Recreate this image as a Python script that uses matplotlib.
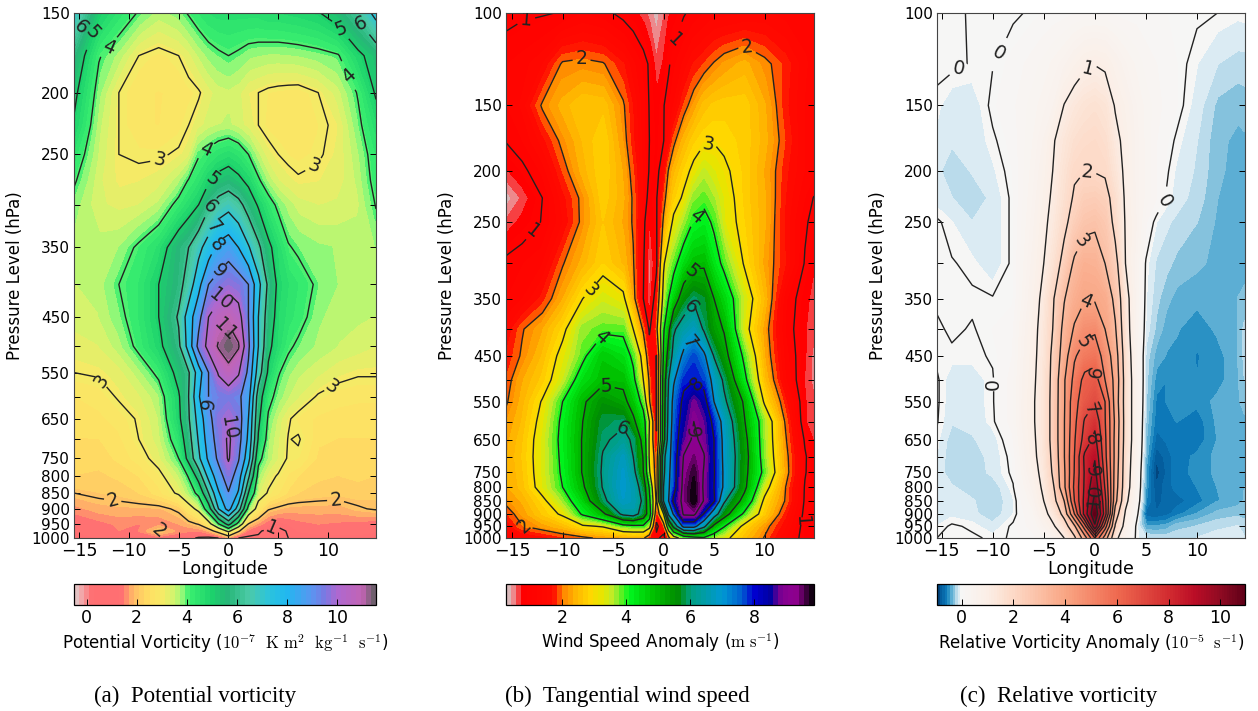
import matplotlib
matplotlib.use("Agg")
import matplotlib.pyplot as plt
from matplotlib.colors import LinearSegmentedColormap
import numpy as np

plt.rcParams['font.family'] = ['DejaVu Sans']
plt.rcParams['mathtext.fontset'] = 'cm'

# ---- panel (a) potential vorticity
pv_lon = [-15.5, -13, -11, -9, -7, -5, -4, -3, -2, -1, 0, 1, 2, 3, 4, 5, 6, 7, 9, 11, 13, 14.8]
pv_lev = [150, 175, 200, 225, 250, 275, 300, 350, 400, 450, 500, 550, 600, 650, 700, 750, 800, 850, 900, 950, 975, 1000]
pv = [
    [7.0, 5.0, 4.4, 3.95, 3.6, 3.8, 4.05, 4.3, 4.5, 4.6, 4.6, 4.6, 4.6, 4.6, 4.7, 4.7, 4.75, 4.8, 4.95, 5.4, 6.2, 7.3],
    [5.7, 4.05, 3.6, 3.0, 2.85, 3.0, 3.2, 3.5, 3.75, 3.9, 4.0, 3.9, 3.75, 3.7, 3.65, 3.65, 3.67, 3.7, 3.8, 3.95, 4.8, 5.4],
    [5.2, 3.75, 3.0, 2.75, 2.7, 2.75, 2.85, 2.95, 3.2, 3.4, 3.45, 3.35, 3.1, 3.0, 2.9, 2.85, 2.82, 2.8, 3.0, 3.4, 4.05, 5.1],
    [4.9, 3.55, 3.0, 2.75, 2.7, 2.85, 3.0, 3.2, 3.4, 3.5, 3.55, 3.4, 3.2, 3.0, 2.85, 2.8, 2.8, 2.8, 2.9, 3.1, 3.85, 4.6],
    [4.4, 3.45, 3.0, 2.95, 2.95, 3.05, 3.2, 3.95, 4.2, 4.45, 4.6, 4.4, 4.0, 3.5, 3.15, 3.0, 2.9, 2.85, 2.95, 3.15, 3.65, 4.3],
    [4.07, 3.35, 3.05, 3.1, 3.2, 3.6, 4.05, 4.4, 4.9, 5.3, 5.5, 5.2, 4.8, 4.1, 3.6, 3.3, 3.15, 3.05, 3.1, 3.2, 3.55, 4.2],
    [3.8, 3.35, 3.25, 3.3, 3.55, 4.2, 4.6, 5.0, 5.85, 6.4, 6.7, 6.3, 5.6, 4.9, 4.3, 3.85, 3.6, 3.4, 3.3, 3.35, 3.45, 4.03],
    [3.6, 3.6, 3.7, 4.1, 4.55, 5.6, 6.0, 6.7, 7.5, 8.3, 8.6, 8.0, 7.1, 6.2, 5.2, 4.6, 4.05, 3.9, 3.75, 3.7, 3.7, 3.7],
    [3.5, 3.6, 4.0, 4.3, 5.0, 5.7, 6.4, 7.7, 9.0, 9.4, 9.7, 9.5, 9.0, 7.3, 5.8, 4.8, 4.5, 4.3, 3.9, 3.7, 3.7, 3.7],
    [3.4, 3.5, 3.85, 4.3, 5.0, 6.1, 7.5, 8.7, 10.0, 10.6, 10.85, 10.4, 9.0, 7.0, 5.5, 4.7, 4.4, 4.2, 3.75, 3.6, 3.55, 3.5],
    [3.2, 3.3, 3.6, 4.15, 4.8, 5.8, 7.4, 9.3, 10.3, 11.1, 11.5, 11.1, 9.2, 7.0, 5.2, 4.6, 4.1, 3.9, 3.65, 3.5, 3.4, 3.3],
    [3.0, 3.05, 3.2, 3.6, 4.15, 5.3, 5.9, 7.5, 9.0, 10.1, 10.7, 10.1, 8.8, 6.5, 4.85, 4.05, 3.75, 3.55, 3.35, 3.15, 3.05, 3.05],
    [2.7, 2.8, 3.05, 3.25, 3.65, 4.9, 6.0, 7.9, 9.0, 9.3, 9.4, 9.2, 8.4, 5.5, 4.2, 3.8, 3.5, 3.3, 2.95, 2.8, 2.75, 2.75],
    [2.6, 2.65, 2.8, 3.05, 3.5, 4.8, 5.9, 7.4, 8.7, 9.6, 9.95, 9.5, 8.0, 5.2, 3.9, 3.4, 3.05, 2.85, 2.65, 2.6, 2.6, 2.6],
    [2.5, 2.5, 2.65, 3.0, 3.4, 4.4, 5.6, 7.1, 8.5, 9.4, 10.15, 9.4, 7.8, 4.9, 3.7, 3.3, 2.98, 3.05, 2.55, 2.5, 2.5, 2.5],
    [2.4, 2.4, 2.55, 2.8, 3.2, 4.0, 5.3, 6.8, 8.2, 9.2, 10.1, 9.1, 7.4, 4.2, 3.6, 3.25, 2.95, 2.9, 2.45, 2.4, 2.4, 2.4],
    [2.3, 2.25, 2.35, 2.5, 2.85, 3.45, 4.05, 5.4, 7.3, 8.6, 9.5, 8.5, 6.2, 3.7, 3.15, 2.95, 2.65, 2.5, 2.35, 2.3, 2.35, 2.3],
    [2.0, 2.1, 2.15, 2.3, 2.6, 3.1, 3.6, 4.2, 6.0, 7.9, 8.95, 7.9, 5.0, 3.3, 2.95, 2.7, 2.45, 2.3, 2.2, 2.15, 2.2, 2.15],
    [1.6, 1.8, 1.85, 1.85, 1.85, 2.1, 2.7, 3.2, 4.5, 7.0, 8.4, 6.5, 3.7, 2.7, 2.05, 1.9, 1.8, 1.8, 1.8, 1.8, 1.95, 2.05],
    [1.25, 1.4, 1.55, 1.5, 1.55, 1.7, 1.85, 2.05, 2.7, 4.0, 5.4, 3.7, 2.0, 1.6, 1.3, 1.15, 1.3, 1.4, 1.5, 1.45, 1.4, 1.3],
    [1.3, 1.4, 1.5, 1.5, 2.03, 1.6, 1.5, 1.45, 1.7, 2.3, 3.2, 2.1, 1.3, 1.05, 0.9, 0.85, 1.05, 1.3, 1.4, 1.4, 1.4, 1.3],
    [1.3, 1.3, 1.3, 1.1, 1.3, 1.2, 1.1, 0.95, 0.9, 1.0, 1.5, 1.0, 0.9, 0.95, 0.9, 0.8, 1.0, 1.2, 1.15, 1.2, 1.2, 1.1],
]
pv_ticks = [150, 200, 250, 350, 450, 550, 650, 750, 800, 850, 900, 950, 1000]
pv_labels_at = [(-14.9, 156), (-13.6, 161), (-12.1, 166), (-7, 253), (8.6, 263), (12.1, 187), (11.3, 157), (13.3, 157),
                (-2.3, 245), (-1.7, 272), (-2, 300), (-1.7, 323), (-1.2, 347), (-0.9, 382), (-0.6, 426), (-0.1, 473),
                (-0.4, 612), (-0.1, 672), (-12.5, 565), (10.7, 587), (-11.5, 865), (10.6, 845), (-8, 955), (4.3, 965)]

# ---- panel (b) tangential wind speed
ws_lon = [-15.6, -14, -12, -10, -8, -6, -4, -3, -2, -1.4, -0.7, 0, 0.5, 1, 2, 3, 4, 5, 6, 8, 10, 12, 14, 14.9]
ws_lev = [100, 125, 150, 175, 200, 225, 250, 300, 350, 400, 450, 500, 550, 600, 650, 700, 750, 800, 850, 900, 950, 1000]
ws = [
    [0.9, 0.95, 0.97, 1.02, 1.2, 1.1, 0.9, 0.8, 0.65, 0.5, 0.3, 0.55, 0.7, 0.8, 0.97, 1.1, 1.2, 1.3, 1.3, 1.35, 1.4, 1.3, 1.3, 1.3],
    [1.2, 1.3, 1.5, 2.05, 2.1, 2.03, 1.7, 1.4, 1.15, 0.95, 0.6, 0.75, 0.95, 1.15, 1.4, 1.7, 1.85, 2.03, 2.2, 2.4, 2.1, 1.8, 1.4, 1.3],
    [1.2, 1.4, 2.05, 2.4, 2.65, 2.6, 2.05, 1.65, 1.25, 0.98, 0.8, 0.98, 1.15, 1.35, 1.85, 2.2, 2.55, 2.7, 2.75, 2.75, 2.35, 1.75, 1.35, 1.25],
    [1.02, 1.2, 1.6, 2.1, 2.5, 2.8, 2.15, 1.7, 1.25, 1.0, 0.85, 0.98, 1.4, 1.9, 2.4, 2.75, 2.93, 2.97, 2.9, 2.75, 2.4, 1.85, 1.35, 1.25],
    [0.7, 0.9, 1.25, 1.85, 2.4, 2.8, 2.3, 1.85, 1.3, 0.97, 0.8, 1.4, 2.05, 2.4, 2.8, 3.15, 3.5, 3.3, 3.1, 2.75, 2.3, 1.75, 1.35, 1.25],
    [0.3, 0.6, 1.0, 1.6, 2.1, 2.75, 2.35, 1.95, 1.25, 0.85, 0.95, 1.8, 2.3, 2.7, 3.1, 3.7, 3.85, 3.6, 3.25, 2.75, 2.35, 1.7, 1.2, 0.98],
    [0.6, 0.8, 1.02, 1.5, 2.1, 2.65, 2.3, 1.95, 1.1, 0.7, 0.95, 2.1, 2.6, 3.15, 3.6, 4.05, 4.2, 3.9, 3.3, 2.8, 2.35, 1.65, 1.05, 0.9],
    [1.1, 1.2, 1.35, 1.97, 2.4, 2.8, 2.45, 2.05, 1.05, 0.45, 0.9, 2.9, 3.5, 3.8, 4.4, 4.85, 4.9, 4.3, 3.85, 2.95, 2.25, 1.7, 0.97, 0.75],
    [1.2, 1.35, 1.75, 2.3, 3.0, 3.4, 3.15, 2.2, 1.0, 0.5, 1.3, 3.3, 4.0, 4.5, 5.5, 5.9, 5.7, 5.0, 4.5, 3.4, 2.45, 1.25, 0.8, 0.65],
    [1.5, 1.97, 2.3, 2.85, 3.7, 3.85, 3.85, 3.0, 1.9, 0.9, 1.8, 3.9, 4.8, 5.9, 6.4, 6.7, 5.9, 5.3, 4.95, 3.25, 2.2, 1.2, 0.75, 0.6],
    [1.7, 2.05, 2.5, 3.2, 3.85, 4.7, 4.4, 3.85, 2.7, 1.4, 0.98, 4.1, 5.4, 6.3, 7.2, 7.7, 7.2, 5.95, 5.3, 3.85, 2.3, 1.3, 0.75, 0.5],
    [1.85, 2.3, 2.7, 3.4, 4.4, 4.85, 4.85, 4.2, 3.0, 1.9, 0.98, 4.4, 6.0, 6.9, 7.8, 7.95, 7.7, 6.7, 5.85, 4.2, 2.5, 1.4, 0.7, 0.5],
    [1.95, 2.4, 3.05, 4.0, 4.9, 5.5, 5.2, 4.7, 3.7, 2.05, 1.0, 4.5, 6.2, 7.3, 8.2, 8.8, 8.35, 7.0, 6.15, 4.9, 2.9, 1.75, 0.75, 0.6],
    [2.15, 2.5, 3.2, 4.15, 5.0, 5.8, 5.9, 5.15, 4.4, 3.0, 0.95, 4.6, 6.3, 7.4, 8.4, 9.0, 8.7, 7.75, 6.65, 5.05, 3.6, 2.0, 0.75, 0.6],
    [2.25, 2.6, 3.3, 4.2, 5.05, 5.9, 6.2, 5.9, 4.7, 2.9, 1.05, 4.6, 6.5, 7.5, 8.6, 9.15, 8.8, 8.0, 6.75, 5.25, 3.6, 2.1, 0.95, 0.7],
    [2.3, 2.65, 3.3, 4.15, 5.05, 6.05, 6.7, 6.0, 4.95, 2.9, 1.5, 5.7, 6.7, 7.5, 9.05, 9.4, 9.05, 8.0, 6.8, 5.35, 3.65, 2.2, 1.05, 0.75],
    [2.3, 2.6, 3.3, 4.1, 5.05, 6.1, 6.85, 6.25, 5.0, 3.1, 1.6, 5.8, 6.8, 7.6, 9.2, 9.65, 8.95, 8.05, 6.85, 5.25, 3.8, 2.25, 1.03, 0.8],
    [2.3, 2.55, 3.25, 4.0, 4.9, 6.05, 6.9, 6.5, 5.6, 3.9, 1.6, 6.0, 6.9, 7.6, 9.3, 9.8, 8.9, 8.0, 6.85, 5.2, 3.3, 2.05, 0.97, 0.85],
    [2.1, 2.35, 2.85, 3.6, 4.55, 5.8, 6.8, 6.6, 5.85, 4.2, 1.85, 6.05, 7.0, 8.2, 9.3, 9.85, 8.95, 8.1, 6.1, 4.7, 2.85, 2.0, 0.95, 0.9],
    [1.8, 2.2, 2.65, 3.1, 4.1, 4.85, 6.2, 6.4, 5.6, 4.5, 1.4, 3.0, 6.2, 7.1, 9.15, 9.2, 7.95, 6.4, 5.4, 3.85, 2.65, 1.75, 0.9, 0.8],
    [1.5, 1.98, 2.2, 2.45, 2.9, 3.05, 3.7, 3.8, 3.85, 3.3, 0.8, 1.6, 3.7, 5.3, 7.3, 7.3, 6.2, 4.8, 4.05, 2.8, 2.15, 1.55, 0.85, 0.75],
    [1.2, 1.4, 1.55, 1.75, 1.9, 2.1, 2.15, 2.15, 2.1, 1.5, 1.2, 0.7, 1.8, 2.6, 3.4, 3.7, 3.9, 3.5, 3.2, 2.5, 1.97, 1.35, 0.85, 0.8],
]
ws_ticks = [100, 150, 200, 250, 350, 450, 550, 650, 750, 800, 850, 900, 950, 1000]
ws_labels_at = [(-13.6, 103), (1.2, 115), (-8.1, 128), (8.3, 114), (4.4, 182), (-12.9, 261), (-7.2, 337), (3.3, 245),
                (2.7, 310), (2.7, 364), (2.6, 425), (3.1, 513), (2.8, 628), (-6, 416), (-5.7, 514), (-4.9, 610),
                (-13.9, 955), (13.2, 928)]

# ---- panel (c) relative vorticity
rv_lon = [-15.45, -14, -12, -10, -8, -6, -5, -4, -3, -2, -1, 0, 1, 2, 3, 4, 5, 6, 7, 8, 10, 12, 14, 14.7]
rv_lev = ws_lev
rv = [
    [0.02, 0.02, -0.01, -0.02, -0.02, 0.02, 0.05, 0.08, 0.1, 0.13, 0.15, 0.15, 0.15, 0.12, 0.1, 0.1, 0.08, 0.07, 0.05, 0.03, 0.02, 0.0, -0.03, -0.02],
    [0.03, 0.03, -0.01, -0.004, 0.08, 0.2, 0.28, 0.38, 0.5, 0.7, 0.9, 0.98, 0.9, 0.65, 0.45, 0.32, 0.2, 0.15, 0.1, 0.05, -0.05, -0.15, -0.2, -0.2],
    [-0.03, -0.12, -0.11, 0.03, 0.12, 0.3, 0.4, 0.55, 1.02, 1.3, 1.5, 1.6, 1.45, 0.95, 0.7, 0.45, 0.3, 0.2, 0.1, 0.05, -0.1, -0.28, -0.32, -0.3],
    [-0.08, -0.13, -0.12, -0.02, 0.08, 0.35, 0.55, 0.97, 1.35, 1.65, 1.8, 1.85, 1.7, 1.2, 0.8, 0.5, 0.3, 0.15, 0.06, -0.02, -0.15, -0.32, -0.38, -0.37],
    [-0.12, -0.24, -0.14, -0.07, 0.05, 0.4, 0.65, 1.05, 1.5, 1.9, 2.0, 1.97, 1.9, 1.4, 0.85, 0.5, 0.3, 0.15, 0.02, -0.07, -0.17, -0.33, -0.39, -0.38],
    [-0.1, -0.15, -0.24, -0.12, 0.03, 0.45, 0.75, 1.15, 1.6, 2.1, 2.4, 2.45, 2.3, 1.65, 0.9, 0.5, 0.3, 0.15, -0.01, -0.1, -0.2, -0.35, -0.38, -0.38],
    [0.02, -0.05, -0.15, -0.12, 0.03, 0.5, 0.85, 1.25, 1.8, 2.35, 2.75, 2.85, 2.6, 1.75, 0.95, 0.55, 0.15, -0.05, -0.13, -0.18, -0.25, -0.37, -0.39, -0.39],
    [0.03, 0.01, -0.03, -0.12, 0.03, 0.6, 1.0, 1.55, 2.3, 3.15, 3.55, 3.5, 3.0, 2.3, 1.0, 0.45, -0.02, -0.17, -0.22, -0.28, -0.33, -0.38, -0.39, -0.38],
    [0.02, 0.02, 0.02, 0.01, 0.03, 0.7, 1.2, 2.0, 2.95, 3.6, 3.95, 3.9, 3.7, 2.75, 1.3, 0.45, -0.05, -0.22, -0.32, -0.39, -0.42, -0.41, -0.35, -0.33],
    [-0.02, 0.02, -0.01, 0.05, 0.12, 0.8, 1.3, 2.1, 3.3, 4.1, 4.75, 4.85, 4.0, 3.1, 1.35, 0.5, -0.1, -0.28, -0.41, -0.44, -0.52, -0.43, -0.36, -0.22],
    [-0.03, -0.02, -0.02, 0.01, 0.15, 0.85, 1.35, 2.3, 3.5, 4.9, 5.4, 5.6, 4.6, 3.5, 1.5, 0.55, -0.2, -0.4, -0.46, -0.48, -0.56, -0.5, -0.36, -0.22],
    [0.02, -0.12, -0.12, -0.01, 0.2, 0.9, 1.4, 2.35, 3.9, 5.3, 6.3, 6.5, 5.0, 3.7, 1.6, 0.6, -0.22, -0.5, -0.55, -0.5, -0.55, -0.5, -0.37, -0.25],
    [0.02, -0.12, -0.12, -0.01, 0.2, 0.95, 1.4, 2.4, 3.9, 5.7, 6.5, 6.95, 6.0, 3.6, 1.6, 0.6, -0.25, -0.58, -0.55, -0.5, -0.52, -0.42, -0.38, -0.3],
    [0.01, -0.14, -0.13, -0.02, 0.2, 0.95, 1.4, 2.4, 3.95, 5.75, 7.1, 7.7, 6.05, 3.8, 1.6, 0.6, -0.3, -0.62, -0.6, -0.55, -0.62, -0.43, -0.38, -0.38],
    [-0.03, -0.22, -0.16, -0.11, 0.12, 0.9, 1.4, 2.4, 3.95, 5.9, 7.4, 8.3, 6.2, 3.7, 1.6, 0.6, -0.35, -0.7, -0.64, -0.6, -0.62, -0.45, -0.38, -0.38],
    [-0.06, -0.24, -0.2, -0.12, 0.05, 0.85, 1.35, 2.3, 3.95, 6.0, 8.2, 8.9, 6.3, 3.7, 1.5, 0.55, -0.4, -0.85, -0.72, -0.6, -0.53, -0.42, -0.38, -0.38],
    [-0.08, -0.24, -0.23, -0.12, 0.03, 0.75, 1.25, 2.2, 3.85, 6.05, 8.1, 9.3, 6.6, 3.6, 1.45, 0.5, -0.48, -0.92, -0.75, -0.58, -0.53, -0.42, -0.35, -0.35],
    [-0.1, -0.14, -0.21, -0.24, -0.01, 0.6, 1.15, 2.0, 3.8, 6.2, 8.15, 9.8, 6.9, 3.5, 1.4, 0.45, -0.5, -0.85, -0.7, -0.62, -0.55, -0.45, -0.38, -0.35],
    [-0.08, -0.14, -0.14, -0.24, -0.08, 0.45, 1.0, 1.75, 3.0, 6.0, 8.3, 10.3, 7.3, 3.3, 1.2, 0.35, -0.55, -0.8, -0.72, -0.7, -0.6, -0.46, -0.4, -0.34],
    [-0.1, -0.08, -0.12, -0.23, -0.06, 0.3, 0.8, 1.3, 2.3, 5.0, 8.4, 10.9, 7.5, 2.5, 0.9, 0.2, -0.72, -0.75, -0.7, -0.6, -0.45, -0.32, -0.28, -0.3],
    [-0.05, 0.02, -0.02, -0.12, 0.03, 0.2, 0.5, 0.95, 1.5, 2.8, 5.5, 9.8, 5.5, 1.9, 0.7, 0.0, -0.45, -0.45, -0.42, -0.3, -0.25, -0.18, -0.15, -0.2],
    [0.0, 0.01, 0.02, -0.02, 0.01, 0.1, 0.25, 0.5, 1.0, 1.8, 3.5, 6.0, 3.5, 1.2, 0.5, -0.02, -0.15, -0.2, -0.2, -0.18, -0.15, -0.1, -0.1, -0.15],
]
rv_ticks = ws_ticks
rv_labels_at = [(-13.3, 134), (-9.6, 113), (-0.7, 126), (-0.7, 197), (-0.85, 277), (-0.9, 351), (-1.1, 424), (0, 483),
                (-0.4, 567), (-0.2, 649), (-0.2, 748), (0, 832), (6.7, 227), (-9.6, 510)]

lon_ticks = [-15, -10, -5, 0, 5, 10]

# colour stops, value then colour
pv_stops = [(-0.5, '#dccfcf'), (-0.2, '#f2a6a8'), (0.2, '#ff6f72'), (1.4, '#ff6f72'), (1.9, '#ffbd66'), (2.5, '#ffe063'),
            (3.0, '#f6ea66'), (3.5, '#cff56e'), (3.8, '#96f878'), (4.05, '#3cf070'), (5.0, '#1cd26c'), (5.6, '#26b676'),
            (6.5, '#4ccaa8'), (7.3, '#2cc4dc'), (8.0, '#20b8f0'), (9.0, '#5c94f0'), (9.5, '#7a78e2'), (10.0, '#ae68d0'),
            (11.0, '#c264b4'), (11.55, '#5e5e5e')]
ws_stops = [(0.26, '#cfcfcf'), (0.5, '#ef8488'), (0.8, '#ff0000'), (1.75, '#ff0a00'), (2.05, '#ff8800'), (2.4, '#ffb400'),
            (2.9, '#ffd800'), (3.3, '#e2e800'), (3.6, '#b8ec30'), (3.9, '#50f020'), (4.1, '#00f820'), (4.8, '#00c400'),
            (5.6, '#008c00'), (6.0, '#00a080'), (7.0, '#0098d2'), (7.6, '#0060d0'), (8.0, '#0000d0'), (8.5, '#0000a0'),
            (8.85, '#800090'), (9.3, '#900090'), (9.86, '#000000')]
rv_stops = [(-0.95, '#023a70'), (-0.8, '#0460a0'), (-0.6, '#0d78b8'), (-0.5, '#2c93c5'), (-0.4, '#64b2d6'),
            (-0.3, '#8ec6df'), (-0.2, '#bcdcec'), (-0.11, '#dcebf3'), (-0.07, '#f3f5f5'), (0.0, '#f7f6f5'), (1.0, '#fbeee6'),
            (2.0, '#fdd9c6'), (4.0, '#f9a684'), (6.0, '#ef6a50'), (8.0, '#d22b30'), (9.0, '#bb0d26'), (10.0, '#8f0a22'),
            (10.95, '#5f0018')]


def make_cmap(stops):
    lo = stops[0][0]
    hi = stops[-1][0]
    return LinearSegmentedColormap.from_list('c', [((v - lo) / (hi - lo), c) for v, c in stops], N=512)


def panel(box, cbox, lon, lev, vals, stops, nband, lines, ticks, cticks, xlim, spots, clabel, caption, capx):
    ax = fig.add_axes([box[0] / W, 1 - box[3] / H, (box[1] - box[0]) / W, (box[3] - box[2]) / H])
    levels = np.linspace(stops[0][0], stops[-1][0], nband)
    cf = ax.contourf(lon, lev, vals, levels=levels, cmap=make_cmap(stops))
    cf.set_edgecolor('face')
    cs = ax.contour(lon, lev, vals, levels=lines, colors='#222222', linewidths=1.0)
    ax.clabel(cs, manual=spots, fmt='%d', fontsize=13.5, inline=True, inline_spacing=3)

    ax.set_yscale('log')
    ax.set_ylim(1000, ticks[0])
    ax.set_xlim(*xlim)
    every = list(range(ticks[0], 1001, 50))
    ax.set_yticks(every)
    ax.set_yticklabels([str(p) if p in ticks else '' for p in every])
    ax.minorticks_off()
    ax.set_xticks(lon_ticks)
    ax.tick_params(direction='in', top=True, right=True, length=4, width=0.7, labelsize=12.5, pad=3)
    ax.tick_params(axis='y', labelsize=11)
    ax.set_xlabel('Longitude', fontsize=12.5, labelpad=0)
    ax.set_ylabel('Pressure Level (hPa)', fontsize=12, labelpad=5)
    for s in ax.spines.values():
        s.set_linewidth(0.8)
        s.set_color('#444444')

    cax = fig.add_axes([cbox[0] / W, 1 - 605 / H, (cbox[1] - cbox[0]) / W, 21 / H])
    cb = fig.colorbar(cf, cax=cax, orientation='horizontal', ticks=cticks)
    cb.ax.tick_params(direction='in', length=4, width=0.7, labelsize=12.5, pad=3)
    cb.outline.set_linewidth(0.9)
    cb.set_label(clabel, fontsize=12, labelpad=3)
    fig.text(capx / W, 1 - 696 / H, caption, fontsize=16.6, family='Liberation Serif', ha='center', va='center')


W = 1258
H = 711
fig = plt.figure(figsize=(W / 100, H / 100), dpi=100)

panel((74, 376, 13, 538), (74, 376), pv_lon, pv_lev, pv, pv_stops, 61, list(range(1, 12)), pv_ticks,
      [0, 2, 4, 6, 8, 10], (-15.5, 14.8), pv_labels_at,
      r'Potential Vorticity ($\mathrm{10^{-7}\ \ K\ m^{2}\ \ kg^{-1}\ \ s^{-1}}$)', '(a)  Potential vorticity', 195)
panel((506, 814, 13, 538), (506, 814), ws_lon, ws_lev, ws, ws_stops, 61, list(range(1, 10)), ws_ticks,
      [2, 4, 6, 8], (-15.6, 14.9), ws_labels_at,
      r'Wind Speed Anomaly ($\mathrm{m\ s^{-1}}$)', '(b)  Tangential wind speed', 627)
panel((937, 1245, 13, 538), (937, 1245), rv_lon, rv_lev, rv, rv_stops, 120, list(range(0, 12)), rv_ticks,
      [0, 2, 4, 6, 8, 10], (-15.45, 14.7), rv_labels_at,
      r'Relative Vorticity Anomaly ($\mathrm{10^{-5}\ \ s^{-1}}$)', '(c)  Relative vorticity', 1059)

fig.savefig('out.png', dpi=100, facecolor='white')
